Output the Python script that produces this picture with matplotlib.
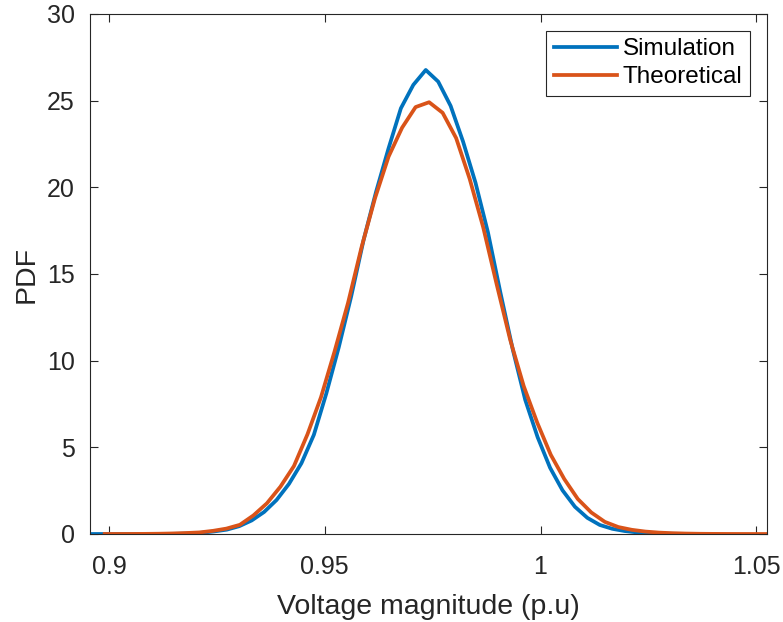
import numpy as np
import matplotlib
matplotlib.use("Agg")
import matplotlib.pyplot as plt

plt.rcParams["font.family"] = ["Liberation Sans", "DejaVu Sans"]

# evaluation grids of the two PDF curves
sim_x_start, sim_x_stop = 0.8956, 1.0368
theo_x_start, theo_x_stop = 0.8990, 1.0525
n_points = 50

# values
sim_pdf = [
    0.0, 0.0, 0.0, 0.0, 0.0, 0.001, 0.005, 0.01, 0.03, 0.07,
    0.15, 0.25, 0.45, 0.78, 1.27, 1.96, 2.89, 4.08, 5.72, 8.10,
    10.76, 13.70, 16.96, 19.73, 22.23, 24.56, 25.91, 26.77, 26.10, 24.70,
    22.64, 20.27, 17.41, 13.94, 10.64, 7.74, 5.58, 3.82, 2.52, 1.57,
    0.93, 0.52, 0.30, 0.17, 0.09, 0.05, 0.02, 0.01, 0.005, 0.002,
]
theo_pdf = [
    0.0, 0.001, 0.003, 0.007, 0.015, 0.03, 0.055, 0.09, 0.18, 0.31,
    0.53, 1.07, 1.77, 2.73, 3.92, 5.75, 7.89, 10.52, 13.33, 16.54,
    19.38, 21.77, 23.44, 24.63, 24.91, 24.30, 22.84, 20.49, 17.70, 14.40,
    11.20, 8.53, 6.42, 4.57, 3.17, 2.02, 1.24, 0.70, 0.40, 0.24,
    0.14, 0.08, 0.045, 0.025, 0.012, 0.006, 0.003, 0.001, 0.0, 0.0,
]

sim_x = np.linspace(sim_x_start, sim_x_stop, n_points)
theo_x = np.linspace(theo_x_start, theo_x_stop, n_points)

fig = plt.figure(figsize=(7.83, 6.22), dpi=100)
ax = fig.add_axes([0.115, 0.1415, 0.8646, 0.836])

ax.plot(sim_x, sim_pdf, color="#0072BD", lw=2.7, label="Simulation")
ax.plot(theo_x, theo_pdf, color="#D95319", lw=2.7, label="Theoretical")

ax.set_xlim(sim_x_start, theo_x_stop)
ax.set_ylim(0, 30)
ax.set_xticks([0.9, 0.95, 1.0, 1.05])
ax.set_xticklabels(["0.9", "0.95", "1", "1.05"])
ax.set_yticks(range(0, 31, 5))

ax.tick_params(direction="in", length=6, width=0.8, colors="#262626",
               labelsize=18, top=True, right=True)
ax.tick_params(axis="x", pad=15)
ax.tick_params(axis="y", pad=11)
for sp in ax.spines.values():
    sp.set_color("#262626")
    sp.set_linewidth(0.8)

ax.set_xlabel("Voltage magnitude (p.u)", fontsize=20.5, color="#262626", labelpad=11)
ax.set_ylabel("PDF", fontsize=20.5, color="#262626", labelpad=5)

leg = ax.legend(loc="upper right", fontsize=17.5, fancybox=False, framealpha=1,
                edgecolor="#262626", handlelength=2.6, handletextpad=0.25,
                borderpad=0.3, labelspacing=0.25, borderaxespad=0.7)
leg.get_frame().set_linewidth(0.8)

fig.savefig("out.png", dpi=100)
